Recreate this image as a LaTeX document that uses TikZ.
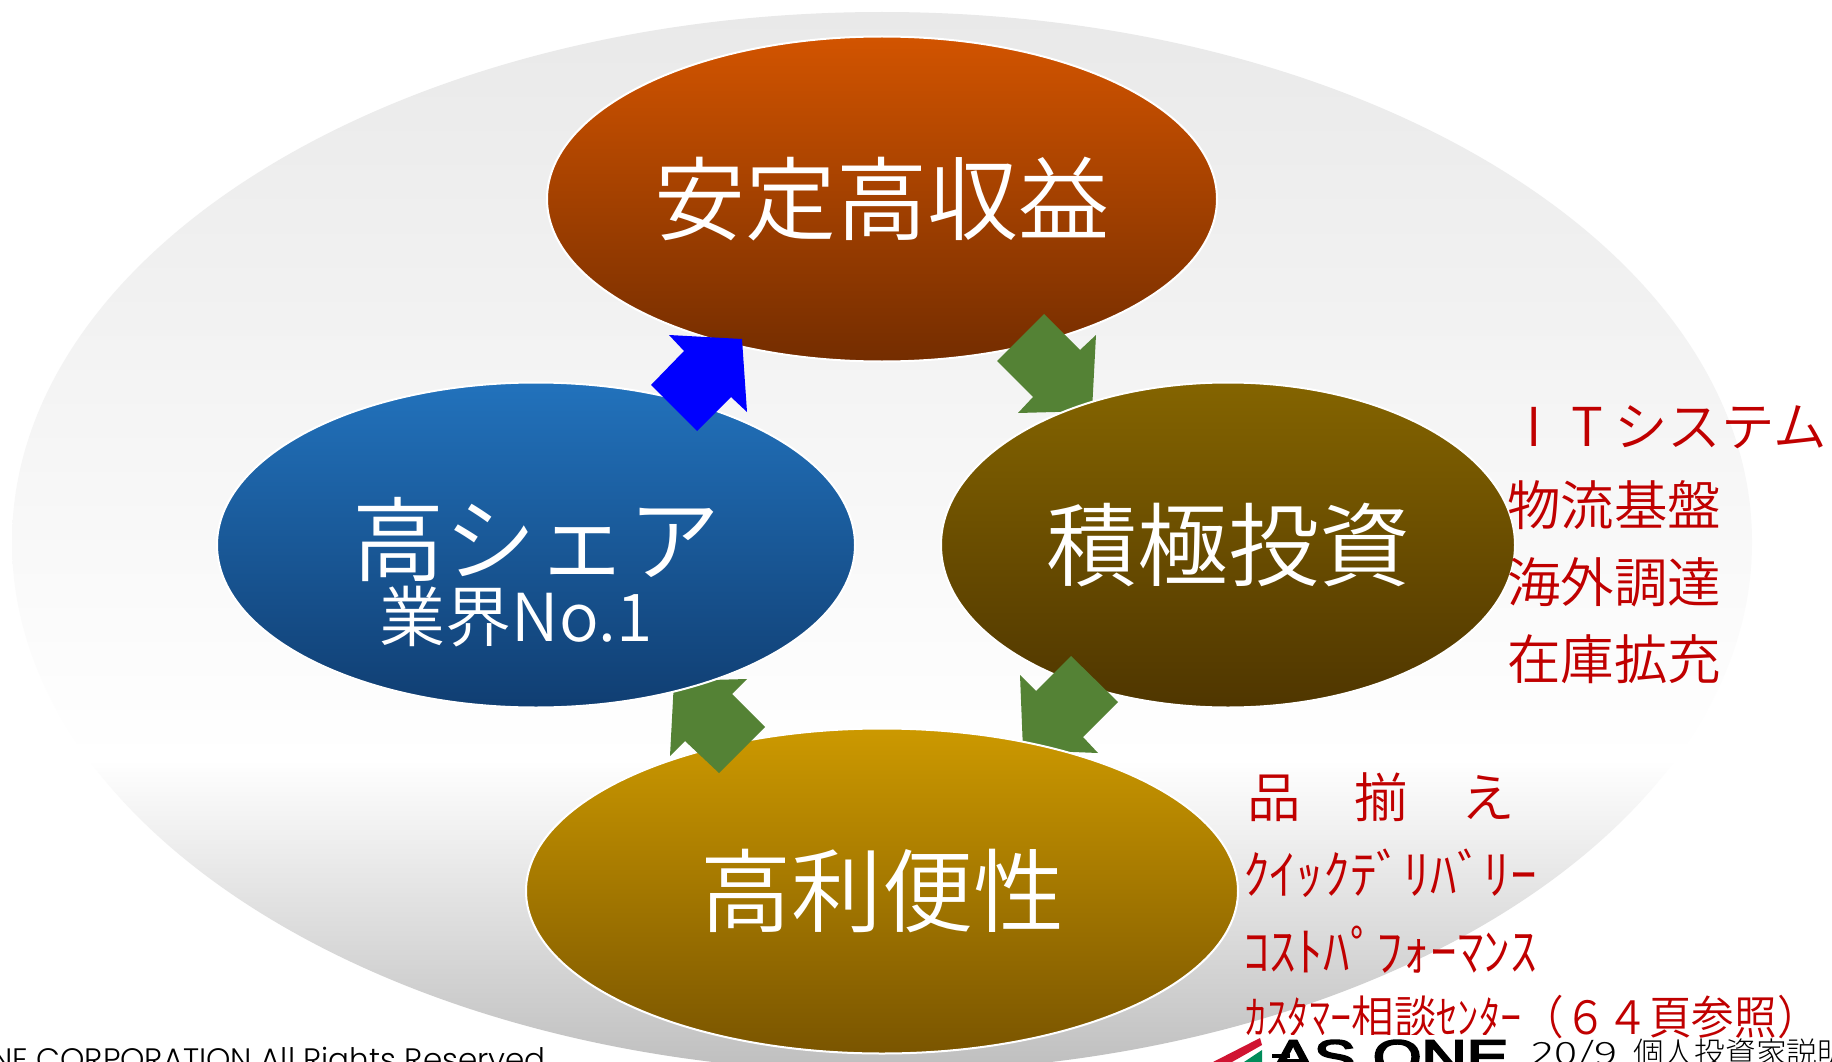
\documentclass[tikz,border=0pt]{standalone}
\usepackage{fontspec}
\usetikzlibrary{shapes.geometric}
\newfontfamily\cjk{Noto Sans CJK JP DemiLight}
\newfontfamily\cjkl{Noto Sans CJK JP Light}
\newfontfamily\latfoot{Poppins Light}
\newfontfamily\logofont{Liberation Sans}[FakeBold=4]
\definecolor{gr}{RGB}{84,130,53}
\definecolor{bl}{RGB}{0,0,255}
\definecolor{rd}{RGB}{192,0,0}
\definecolor{t1}{RGB}{210,84,0}\definecolor{t2}{RGB}{116,45,0}
\definecolor{r1c}{RGB}{132,100,0}\definecolor{r2c}{RGB}{79,54,0}
\definecolor{b1c}{RGB}{204,153,0}\definecolor{b2c}{RGB}{122,85,0}
\definecolor{l1c}{RGB}{34,114,188}\definecolor{l2c}{RGB}{16,62,114}
\definecolor{bgtop}{RGB}{233,233,233}
\definecolor{bgbot}{RGB}{190,190,190}
\definecolor{logored}{RGB}{208,20,50}
\definecolor{logogreen}{RGB}{0,140,90}
\tikzset{
  oval/.style={ellipse,draw=white,line width=2pt,inner sep=0pt,minimum height=325pt,text=white,align=center,font=\cjk\fontsize{91}{91}\selectfont},
  bigarrow/.style={fill=#1,draw=none},
  redtext/.style={anchor=west,inner sep=0pt,text=rd,font=\cjk\fontsize{53.5}{53.5}\selectfont},
  foot/.style={inner sep=0pt,text=black}
}
\begin{document}
\begin{tikzpicture}[x=1pt,y=-1pt]
\useasboundingbox (0,0) rectangle (1832,1062);
\clip (0,0) rectangle (1832,1062);
\fill[white] (0,0) rectangle (1832,1062);
% background
\begin{scope}
  \clip (882,542) ellipse [x radius=870,y radius=530];
  \shade[top color=white,bottom color=bgbot] (0,760) rectangle (1832,1072);
  \shade[top color=bgtop,bottom color=white] (0,12) rectangle (1832,760);
\end{scope}
% top
\node[oval,minimum width=670pt,top color=t1,bottom color=t2] (top) at (882,199) {\raisebox{8pt}{安定高収益}};
\fill[bigarrow=gr] (1044,314)--(1080,350)--(1096,335)--(1092,411)--(1018,413)--(1033,397)--(997,361)--cycle;
\node[oval,minimum width=574pt,top color=r1c,bottom color=r2c] (right) at (1228,545) {\raisebox{8pt}{積極投資}};
\fill[bigarrow=gr] (1071,656)--(1118,702)--(1083,737)--(1098,753)--(1023,750)--(1020,675)--(1036,691)--cycle;
\node[oval,minimum width=712pt,top color=b1c,bottom color=b2c] (bottom) at (882,891) {\raisebox{7pt}{高利便性}};
\fill[bigarrow=gr] (719,773)--(765,727)--(732,694)--(747,679)--(674,681)--(670,756)--(685,741)--cycle;
\node[oval,minimum width=638pt,top color=l1c,bottom color=l2c] (left) at (536,545) {};
\node[inner sep=0pt,text=white,font=\cjk\fontsize{92}{92}\selectfont] (ltitle) at (536,539) {高シェア};
\node[inner sep=0pt,text=white,font=\cjk\fontsize{66}{66}\selectfont] (lsub) at (516,617) {業界No.1};
\fill[bigarrow=bl] (669,335)--(742,339)--(747,412)--(731,397)--(697,431)--(651,385)--(684,351)--cycle;
% red labels
\node[redtext] (r1) at (1507,427) {\makebox[53.5pt]{I}\makebox[53.5pt]{T}システム};
\node[redtext] (r2) at (1507,505) {物流基盤};
\node[redtext] (r3) at (1507,582) {海外調達};
\node[redtext] (r4) at (1507,659) {在庫拡充};
\node[redtext] (b1) at (1247,797) {品　揃　え};
\node[redtext] (b2) at (1243,873) {ｸｲｯｸﾃﾞﾘﾊﾞﾘｰ};
\node[redtext] (b3) at (1243,950) {ｺｽﾄﾊﾟﾌｫｰﾏﾝｽ};
\node[redtext,font=\cjk\fontsize{46}{46}\selectfont] (b4) at (1245,1017) {\scalebox{.925}[1]{ｶｽﾀﾏｰ相談ｾﾝﾀｰ（６４頁参照）}};
% footer
\node[foot,anchor=base east,font=\latfoot\fontsize{31}{31}\selectfont] (copy) at (546,1070) {ONE CORPORATION All Rights Reserved};
\node[foot,anchor=base west,font=\cjkl\fontsize{30.7}{30.7}\selectfont] (pg) at (1531,1064) {\scalebox{1.4}[1]{20/9}};
\node[foot,anchor=base west,font=\cjkl\fontsize{30.7}{30.7}\selectfont] (pg2) at (1633,1064) {個人投資家説明};
% logo
\fill[white] (1205,1035) rectangle (1515,1062);
\fill[logored] (1213,1062)--(1260,1038)--(1262,1045)--(1232,1062)--cycle;
\fill[logogreen] (1244,1062)--(1262,1050)--(1262,1062)--cycle;
\fill[black] (1272,1054) rectangle (1290,1058);
\node[foot,anchor=base west,font=\logofont\fontsize{47}{47}\selectfont] (logo) at (1272,1073) {\scalebox{1.33}[1]{AS ONE}};
\end{tikzpicture}
\end{document}
